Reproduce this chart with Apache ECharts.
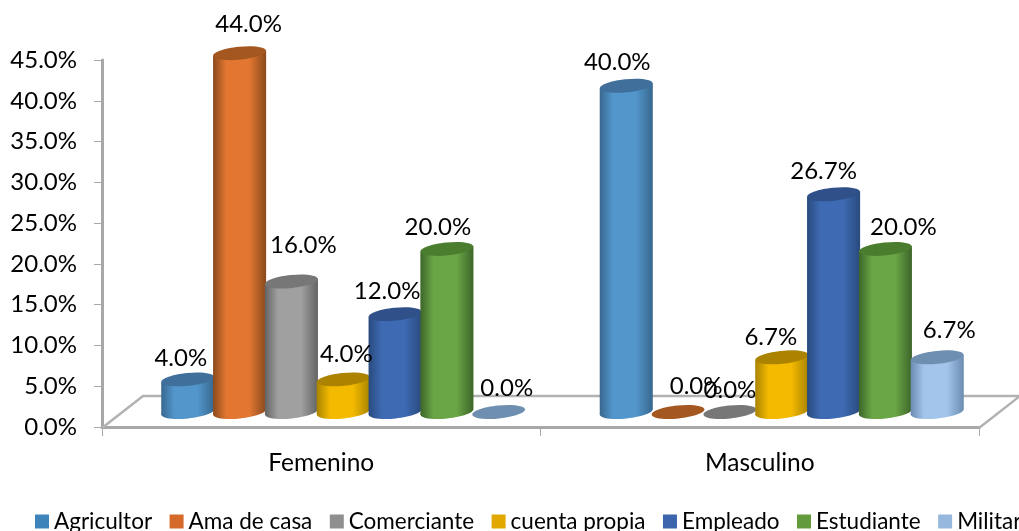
<!DOCTYPE html>
<html>
<head>
<meta charset="utf-8">
<style>html,body{margin:0;padding:0;background:#fff;overflow:hidden}#c{width:1019px;height:531px}</style>
<script src="https://cdn.jsdelivr.net/npm/echarts@6/dist/echarts.min.js"></script>
</head>
<body>
<div id="c"></div>
<script>
const categories = ['Femenino', 'Masculino'];
const seriesNames = ['Agricultor', 'Ama de casa', 'Comerciante', 'cuenta propia', 'Empleado', 'Estudiante', 'Militar'];
const agricultor = [4.0, 40.0];
const amaDeCasa = [44.0, 0.0];
const comerciante = [16.0, 0.0];
const cuentaPropia = [4.0, 6.7];
const empleado = [12.0, 26.7];
const estudiante = [20.0, 20.0];
const militar = [0.0, 6.7];
const seriesValues = [agricultor, amaDeCasa, comerciante, cuentaPropia, empleado, estudiante, militar];

// style: legend, side-edge, centre, top-cap colours
const palette = [
  ['#3f83bb', '#38688f', '#5296cc', '#3f6f9a'],
  ['#d4692a', '#8a4a1e', '#e37731', '#a4571f'],
  ['#8f8f8f', '#646464', '#a0a0a0', '#777777'],
  ['#e3a800', '#a98400', '#f4ba00', '#ab8300'],
  ['#3b64ad', '#294a7d', '#3e6ab4', '#2f5088'],
  ['#639a3c', '#3d662a', '#6aa646', '#4b7d2f'],
  ['#97b8de', '#6c8cb0', '#a3c5ec', '#6f8fb0']
];
// style: manual nudges of the data labels, [dx, dy] per series per category
const labelNudge = [
  [[-7, -21], [-9, -24]],
  [[9, -29], [18, -26]],
  [[12, -36], [0, -22]],
  [[3, -25], [-11, -20]],
  [[-8, -23], [-10, -23]],
  [[-9, -22], [18, -22]],
  [[8, -24], [12, -27]]
];

const FONT = 'Lato';
const DEPTH_X = 22, DEPTH_Y = 15;   // oblique shift of the bars onto the floor
const STEP = 0.1182;                // bar step, in category bands
const RX_RATIO = 0.0605, RY = 6.5, TILT = 0.1;

function cylinder(s) {
  return function (params, api) {
    const cat = api.value(0), v = api.value(1);
    const band = api.size([1, 0])[0];
    const base = api.coord([cat, 0]);
    const top = api.coord([cat, v]);
    const cx = base[0] + DEPTH_X + (s - 3) * STEP * band;
    const rx = RX_RATIO * band;
    const by = base[1] - DEPTH_Y, ty = top[1] - DEPTH_Y;
    const d = rx * Math.sin(TILT);
    const p = palette[s];
    const grad = {
      type: 'linear', x: 0, y: 0, x2: 1, y2: 0,
      colorStops: [
        { offset: 0, color: p[1] }, { offset: 0.25, color: p[2] },
        { offset: 0.68, color: p[2] }, { offset: 1, color: p[1] }
      ]
    };
    const children = [];
    if (v > 0) {
      children.push({
        type: 'ellipse', x: cx, y: by, rotation: TILT,
        shape: { cx: 0, cy: 0, rx: rx, ry: RY }, style: { fill: grad }
      });
      children.push({
        type: 'polygon',
        shape: { points: [[cx - rx, ty + d], [cx + rx, ty - d], [cx + rx, by - d], [cx - rx, by + d]] },
        style: { fill: grad }
      });
    }
    children.push({
      type: 'ellipse', x: cx, y: ty, rotation: TILT,
      shape: { cx: 0, cy: 0, rx: rx, ry: RY }, style: { fill: p[3] }
    });
    const n = labelNudge[s][cat];
    children.push({
      type: 'text', z2: 100, x: cx + n[0], y: ty + n[1],
      style: {
        text: v.toFixed(1) + '%', fill: '#000', font: '24px ' + FONT,
        align: 'center', verticalAlign: 'middle'
      }
    });
    return { type: 'group', children: children };
  };
}

function floor(params) {
  const g = params.coordSys;
  const x0 = g.x, x1 = g.x + g.width, y = g.y + g.height + 1;
  const dx = 41, dy = 32;
  const ls = { stroke: '#b2b2b2', lineWidth: 2.5, fill: null };
  return {
    type: 'group',
    children: [
      { type: 'polyline', shape: { points: [[x0, y], [x0 + dx, y - dy], [x1 + dx, y - dy], [x1, y]] }, style: ls }
    ]
  };
}

const series = [{
  type: 'custom', name: 'floor', silent: true, z: 1,
  coordinateSystem: 'cartesian2d', renderItem: floor,
  encode: { x: 0, y: 1 }, data: [[0, 0]]
}];
seriesNames.forEach(function (name, s) {
  series.push({
    type: 'custom', name: name, z: 2,
    coordinateSystem: 'cartesian2d',
    renderItem: cylinder(s),
    itemStyle: { color: palette[s][0] },
    encode: { x: 0, y: 1 },
    data: seriesValues[s].map(function (v, i) { return [i, v]; })
  });
});

const axisLine = { show: true, lineStyle: { color: '#a8a8a8', width: 3 } };
const chart = echarts.init(document.getElementById('c'), null, { renderer: 'canvas' });
chart.setOption({
  animation: false,
  backgroundColor: '#fff',
  grid: { left: 102, right: 40, top: 60, bottom: 104 },
  legend: {
    data: seriesNames, left: 35, bottom: -2, width: 1400, icon: 'rect',
    itemWidth: 14, itemHeight: 14, itemGap: 17.5, padding: 0,
    selectedMode: false,
    textStyle: { color: '#000', fontFamily: FONT, fontSize: 22.5 }
  },
  xAxis: {
    type: 'category', data: categories,
    axisLine: axisLine,
    axisTick: { show: true, length: 9, lineStyle: { color: '#a8a8a8', width: 1 } },
    axisLabel: { color: '#000', fontFamily: FONT, fontSize: 24.5, margin: 24 }
  },
  yAxis: {
    type: 'value', min: 0, max: 45, interval: 5,
    axisLine: axisLine,
    axisTick: { show: true, length: 8, lineStyle: { color: '#a8a8a8', width: 1 } },
    splitLine: { show: false },
    axisLabel: {
      color: '#000', fontFamily: FONT, fontSize: 24, margin: 25, padding: [4, 0, 0, 0],
      formatter: function (v) { return v.toFixed(1) + '%'; }
    }
  },
  series: series
});
</script>
</body>
</html>
